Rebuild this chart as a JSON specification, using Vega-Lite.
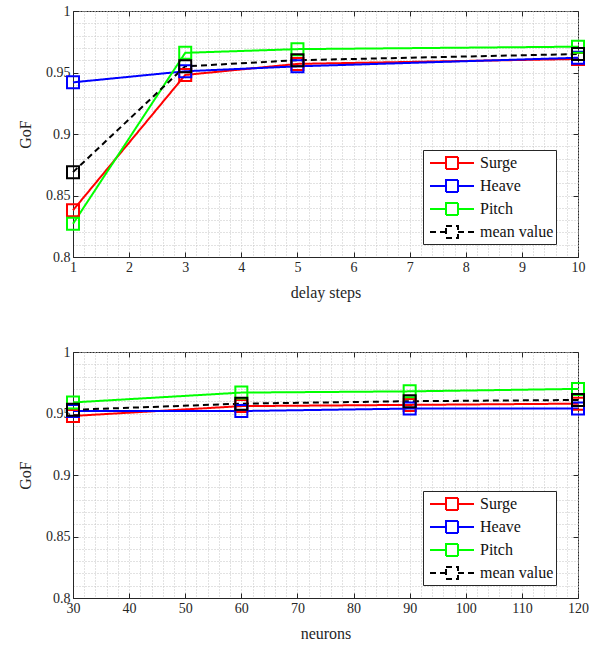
{
  "$schema": "https://vega.github.io/schema/vega-lite/v6.json",
  "padding": {"left": 17, "top": 3, "right": 5, "bottom": 5},
  "spacing": 43,
  "config": {
    "font": "Liberation Serif",
    "view": {"stroke": "#262626", "strokeWidth": 1},
    "axis": {
      "labelFont": "Liberation Serif", "labelFontSize": 14, "labelColor": "#262626",
      "titleFont": "Liberation Serif", "titleFontSize": 16, "titleFontWeight": "normal", "titleColor": "#262626",
      "domainColor": "#262626", "tickColor": "#262626", "gridColor": "#c4c4c4", "gridDash": [1, 2],
      "labelFlush": false, "labelOverlap": false, "tickSize": -5, "labelPadding": 8
    },
    "legend": {
      "labelFont": "Liberation Serif", "labelFontSize": 16, "labelColor": "#111111"
    }
  },
  "resolve": {"scale": {"color": "independent", "strokeDash": "independent"}},
  "datasets": {
    "delay": [
      {"series": "Surge", "x": 1, "gof": 0.838},
      {"series": "Surge", "x": 3, "gof": 0.948},
      {"series": "Surge", "x": 5, "gof": 0.957},
      {"series": "Surge", "x": 10, "gof": 0.961},
      {"series": "Heave", "x": 1, "gof": 0.942},
      {"series": "Heave", "x": 3, "gof": 0.951},
      {"series": "Heave", "x": 5, "gof": 0.955},
      {"series": "Heave", "x": 10, "gof": 0.962},
      {"series": "Pitch", "x": 1, "gof": 0.827},
      {"series": "Pitch", "x": 3, "gof": 0.966},
      {"series": "Pitch", "x": 5, "gof": 0.969},
      {"series": "Pitch", "x": 10, "gof": 0.971},
      {"series": "mean value", "x": 1, "gof": 0.869},
      {"series": "mean value", "x": 3, "gof": 0.955},
      {"series": "mean value", "x": 5, "gof": 0.960},
      {"series": "mean value", "x": 10, "gof": 0.965}
    ],
    "neurons": [
      {"series": "Surge", "x": 30, "gof": 0.948},
      {"series": "Surge", "x": 60, "gof": 0.956},
      {"series": "Surge", "x": 90, "gof": 0.957},
      {"series": "Surge", "x": 120, "gof": 0.958},
      {"series": "Heave", "x": 30, "gof": 0.952},
      {"series": "Heave", "x": 60, "gof": 0.952},
      {"series": "Heave", "x": 90, "gof": 0.954},
      {"series": "Heave", "x": 120, "gof": 0.954},
      {"series": "Pitch", "x": 30, "gof": 0.959},
      {"series": "Pitch", "x": 60, "gof": 0.967},
      {"series": "Pitch", "x": 90, "gof": 0.968},
      {"series": "Pitch", "x": 120, "gof": 0.970},
      {"series": "mean value", "x": 30, "gof": 0.953},
      {"series": "mean value", "x": 60, "gof": 0.958},
      {"series": "mean value", "x": 90, "gof": 0.960},
      {"series": "mean value", "x": 120, "gof": 0.961}
    ]
  },
  "vconcat": [
    {
      "width": 505, "height": 246,
      "data": {"name": "delay"},
      "resolve": {"scale": {"x": "independent", "y": "independent"}},
      "layer": [
        {
          "encoding": {
            "x": {"field": "x", "type": "quantitative", "scale": {"domain": [1, 10], "nice": false, "zero": false},
              "axis": {"title": "delay steps", "titlePadding": 10,
                "values": [1,1.2,1.4,1.6,1.8,2,2.2,2.4,2.6,2.8,3,3.2,3.4,3.6,3.8,4,4.2,4.4,4.6,4.8,5,5.2,5.4,5.6,5.8,6,6.2,6.4,6.6,6.8,7,7.2,7.4,7.6,7.8,8,8.2,8.4,8.6,8.8,9,9.2,9.4,9.6,9.8,10],
                "labelExpr": "datum.value % 1 === 0 ? format(datum.value, '~g') : ''",
                "tickOpacity": {"condition": {"test": "datum.value % 1 === 0", "value": 1}, "value": 0}}},
            "y": {"field": "gof", "type": "quantitative", "scale": {"domain": [0.8, 1], "nice": false, "zero": false},
              "axis": {"title": "GoF", "titlePadding": 12,
                "values": [0.8,0.81,0.82,0.83,0.84,0.85,0.86,0.87,0.88,0.89,0.9,0.91,0.92,0.93,0.94,0.95,0.96,0.97,0.98,0.99,1],
                "labelExpr": "abs(datum.value*20 - round(datum.value*20)) < 1e-6 ? format(datum.value, '~g') : ''",
                "tickOpacity": {"condition": {"test": "abs(datum.value*20 - round(datum.value*20)) < 1e-6", "value": 1}, "value": 0}}},
            "color": {"field": "series", "type": "nominal",
              "scale": {"domain": ["Surge", "Heave", "Pitch", "mean value"], "range": ["#ff0000", "#0000ff", "#00ff00", "#000000"]},
              "legend": {"title": null, "orient": "none", "legendX": 350, "legendY": 139,
                "symbolType": "M-2.2,0H-0.6M0.6,0H2.2M-0.6,-0.6H0.6V0.6H-0.6Z", "symbolSize": 400, "symbolStrokeWidth": 2,
                "symbolOffset": 16, "labelOffset": 17, "rowPadding": 2,
                "symbolFillColor": "transparent", "strokeColor": "#262626", "fillColor": "white", "padding": 2}}
          },
          "layer": [
            {"mark": {"type": "line", "strokeWidth": 2},
             "encoding": {"strokeDash": {"field": "series", "type": "nominal",
               "scale": {"domain": ["Surge", "Heave", "Pitch", "mean value"], "range": [[1, 0], [1, 0], [1, 0], [6, 4]]},
               "legend": {"title": null, "orient": "none", "legendX": 350, "legendY": 139,
                "symbolType": "M-2.2,0H-0.6M0.6,0H2.2M-0.6,-0.6H0.6V0.6H-0.6Z", "symbolSize": 400, "symbolStrokeWidth": 2,
                "symbolOffset": 16, "labelOffset": 17, "rowPadding": 2,
                "symbolFillColor": "transparent", "strokeColor": "#262626", "fillColor": "white", "padding": 2}}}},
            {"mark": {"type": "point", "shape": "square", "filled": false, "size": 144, "strokeWidth": 2, "opacity": 1}}
          ]
        },
        {
          "mark": {"type": "point", "opacity": 0},
          "encoding": {
            "x": {"field": "x", "type": "quantitative", "scale": {"domain": [1, 10], "nice": false, "zero": false},
              "axis": {"orient": "top", "title": null, "labels": false, "grid": false, "domain": false, "values": [1,2,3,4,5,6,7,8,9,10]}},
            "y": {"field": "gof", "type": "quantitative", "scale": {"domain": [0.8, 1], "nice": false, "zero": false},
              "axis": {"orient": "right", "title": null, "labels": false, "grid": false, "domain": false, "values": [0.8,0.85,0.9,0.95,1]}}
          }
        }
      ]
    },
    {
      "width": 505, "height": 246,
      "data": {"name": "neurons"},
      "resolve": {"scale": {"x": "independent", "y": "independent"}},
      "layer": [
        {
          "encoding": {
            "x": {"field": "x", "type": "quantitative", "scale": {"domain": [30, 120], "nice": false, "zero": false},
              "axis": {"title": "neurons", "titlePadding": 10,
                "values": [30,32,34,36,38,40,42,44,46,48,50,52,54,56,58,60,62,64,66,68,70,72,74,76,78,80,82,84,86,88,90,92,94,96,98,100,102,104,106,108,110,112,114,116,118,120],
                "labelExpr": "datum.value % 10 === 0 ? format(datum.value, '~g') : ''",
                "tickOpacity": {"condition": {"test": "datum.value % 10 === 0", "value": 1}, "value": 0}}},
            "y": {"field": "gof", "type": "quantitative", "scale": {"domain": [0.8, 1], "nice": false, "zero": false},
              "axis": {"title": "GoF", "titlePadding": 12,
                "values": [0.8,0.81,0.82,0.83,0.84,0.85,0.86,0.87,0.88,0.89,0.9,0.91,0.92,0.93,0.94,0.95,0.96,0.97,0.98,0.99,1],
                "labelExpr": "abs(datum.value*20 - round(datum.value*20)) < 1e-6 ? format(datum.value, '~g') : ''",
                "tickOpacity": {"condition": {"test": "abs(datum.value*20 - round(datum.value*20)) < 1e-6", "value": 1}, "value": 0}}},
            "color": {"field": "series", "type": "nominal",
              "scale": {"domain": ["Surge", "Heave", "Pitch", "mean value"], "range": ["#ff0000", "#0000ff", "#00ff00", "#000000"]},
              "legend": {"title": null, "orient": "none", "legendX": 350, "legendY": 139,
                "symbolType": "M-2.2,0H-0.6M0.6,0H2.2M-0.6,-0.6H0.6V0.6H-0.6Z", "symbolSize": 400, "symbolStrokeWidth": 2,
                "symbolOffset": 16, "labelOffset": 17, "rowPadding": 2,
                "symbolFillColor": "transparent", "strokeColor": "#262626", "fillColor": "white", "padding": 2}}
          },
          "layer": [
            {"mark": {"type": "line", "strokeWidth": 2},
             "encoding": {"strokeDash": {"field": "series", "type": "nominal",
               "scale": {"domain": ["Surge", "Heave", "Pitch", "mean value"], "range": [[1, 0], [1, 0], [1, 0], [6, 4]]},
               "legend": {"title": null, "orient": "none", "legendX": 350, "legendY": 139,
                "symbolType": "M-2.2,0H-0.6M0.6,0H2.2M-0.6,-0.6H0.6V0.6H-0.6Z", "symbolSize": 400, "symbolStrokeWidth": 2,
                "symbolOffset": 16, "labelOffset": 17, "rowPadding": 2,
                "symbolFillColor": "transparent", "strokeColor": "#262626", "fillColor": "white", "padding": 2}}}},
            {"mark": {"type": "point", "shape": "square", "filled": false, "size": 144, "strokeWidth": 2, "opacity": 1}}
          ]
        },
        {
          "mark": {"type": "point", "opacity": 0},
          "encoding": {
            "x": {"field": "x", "type": "quantitative", "scale": {"domain": [30, 120], "nice": false, "zero": false},
              "axis": {"orient": "top", "title": null, "labels": false, "grid": false, "domain": false, "values": [30,40,50,60,70,80,90,100,110,120]}},
            "y": {"field": "gof", "type": "quantitative", "scale": {"domain": [0.8, 1], "nice": false, "zero": false},
              "axis": {"orient": "right", "title": null, "labels": false, "grid": false, "domain": false, "values": [0.8,0.85,0.9,0.95,1]}}
          }
        }
      ]
    }
  ]
}
